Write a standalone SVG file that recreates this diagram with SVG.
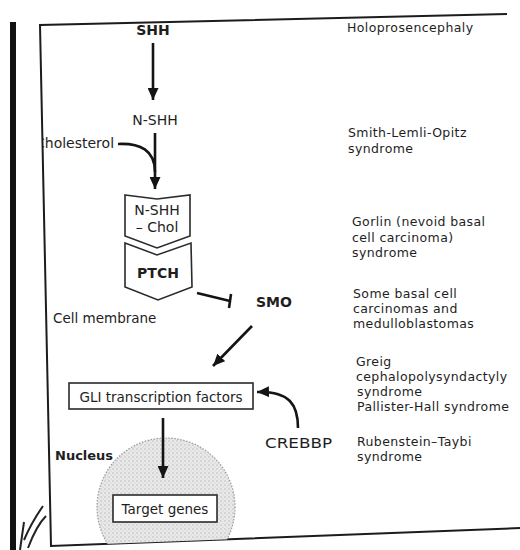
<svg xmlns="http://www.w3.org/2000/svg" width="520" height="550" viewBox="0 0 520 550">
<style>
text{font-family:"DejaVu Sans","Liberation Sans",sans-serif;fill:#1e1e1e;font-size:13.5px}
.b{font-weight:bold;font-size:14px}
.c{text-anchor:middle}
.r{font-size:12.5px;letter-spacing:0.4px}
.ln{fill:none;stroke:#141414;stroke-width:2.6}
.box{fill:#fff;stroke:#2a2a2a;stroke-width:1.6}
.frame{fill:none;stroke:#1c1c1c;stroke-width:2}
</style>
<defs>
<marker id="ah" markerUnits="userSpaceOnUse" markerWidth="12" markerHeight="11" refX="12" refY="5.5" orient="auto">
<path d="M0,0 L12,5.5 L0,11 z" fill="#141414"/>
</marker>
<pattern id="stip" width="4" height="4" patternUnits="userSpaceOnUse">
<rect width="4" height="4" fill="#e9e9e9"/>
<circle cx="1" cy="1" r="0.7" fill="#b3b3b3"/>
<circle cx="3" cy="3" r="0.6" fill="#c6c6c6"/>
</pattern>
<clipPath id="inframe"><polygon points="0,0 520,0 520,528 51,546 0,546"/></clipPath>
<clipPath id="cholclip"><rect x="43" y="0" width="477" height="550"/></clipPath>
</defs>

<rect width="520" height="550" fill="#fff"/>
<g id="page-edge">
<rect x="10" y="22" width="6" height="528" fill="#121212"/>
<path d="M20,550 L24,522 M24,540 C30,526 36,516 43,506 M28,548 C34,532 40,522 46,516" fill="none" stroke="#222" stroke-width="2"/>
</g>
<polyline class="frame" points="507,14 40,25 51,546 520,528"/>

<g id="nucleus">
<circle cx="166" cy="507" r="69" fill="url(#stip)" stroke="#9a9a9a" stroke-width="1.2" stroke-dasharray="1.5 1.5" clip-path="url(#inframe)"/>
<text x="55" y="460" class="b" style="font-size:13px">Nucleus</text>
</g>

<g id="connectors">
<line class="ln" x1="153" y1="43" x2="153" y2="100" marker-end="url(#ah)"/>
<path class="ln" d="M118,144 C140,143 155,150 155,172"/>
<line class="ln" x1="155" y1="133" x2="155" y2="189" marker-end="url(#ah)"/>
<line class="ln" x1="197" y1="293" x2="230" y2="301"/>
<line class="ln" x1="231" y1="294" x2="229" y2="308"/>
<line class="ln" x1="252" y1="326" x2="213" y2="366" marker-end="url(#ah)"/>
<path class="ln" d="M298,428 C298,405 290,391 257,392" marker-end="url(#ah)"/>
<line class="ln" x1="163" y1="418" x2="163" y2="478" marker-end="url(#ah)"/>
</g>

<g id="shh"><text x="153" y="35" class="b c">SHH</text></g>
<g id="n-shh"><text x="155" y="125" class="c" style="font-size:14px">N-SHH</text></g>
<g id="cholesterol"><text x="35" y="148" clip-path="url(#cholclip)" style="font-size:14px">Cholesterol</text></g>

<g id="nshh-chol">
<path class="box" d="M125,195 L157,199 L190,195 L190,236 L157,248 L125,236 z"/>
<text x="157" y="215" class="c" style="font-size:14px">N-SHH</text>
<text x="157" y="232" class="c" style="font-size:14px">– Chol</text>
</g>
<g id="ptch">
<path class="box" d="M125,243 L157,255 L191,243 L192,287 L158,300 L125,287 z"/>
<text x="158" y="278" class="b c">PTCH</text>
</g>
<g id="smo"><text x="256" y="307" class="b">SMO</text></g>
<g id="cell-membrane"><text x="53" y="323">Cell membrane</text></g>
<g id="gli">
<rect class="box" x="69" y="383" width="184" height="26"/>
<text x="161" y="402" class="c">GLI transcription factors</text>
</g>
<g id="crebbp"><text x="265" y="448" textLength="67" lengthAdjust="spacingAndGlyphs">CREBBP</text></g>
<g id="target-genes">
<rect class="box" x="113" y="495" width="104" height="27"/>
<text x="165" y="514" class="c">Target genes</text>
</g>

<g id="disorders">
<text x="347" y="32" class="r">Holoprosencephaly</text>
<text x="348" y="137" class="r">Smith-Lemli-Opitz</text>
<text x="348" y="153" class="r">syndrome</text>
<text x="352" y="226" class="r">Gorlin (nevoid basal</text>
<text x="352" y="242" class="r">cell carcinoma)</text>
<text x="352" y="257" class="r">syndrome</text>
<text x="353" y="298" class="r">Some basal cell</text>
<text x="353" y="313" class="r">carcinomas and</text>
<text x="353" y="328" class="r">medulloblastomas</text>
<text x="356" y="366" class="r">Greig</text>
<text x="356" y="381" class="r">cephalopolysyndactyly</text>
<text x="357" y="396" class="r">syndrome</text>
<text x="357" y="411" class="r">Pallister-Hall syndrome</text>
<text x="357" y="446" class="r">Rubenstein–Taybi</text>
<text x="357" y="461" class="r">syndrome</text>
</g>
</svg>
